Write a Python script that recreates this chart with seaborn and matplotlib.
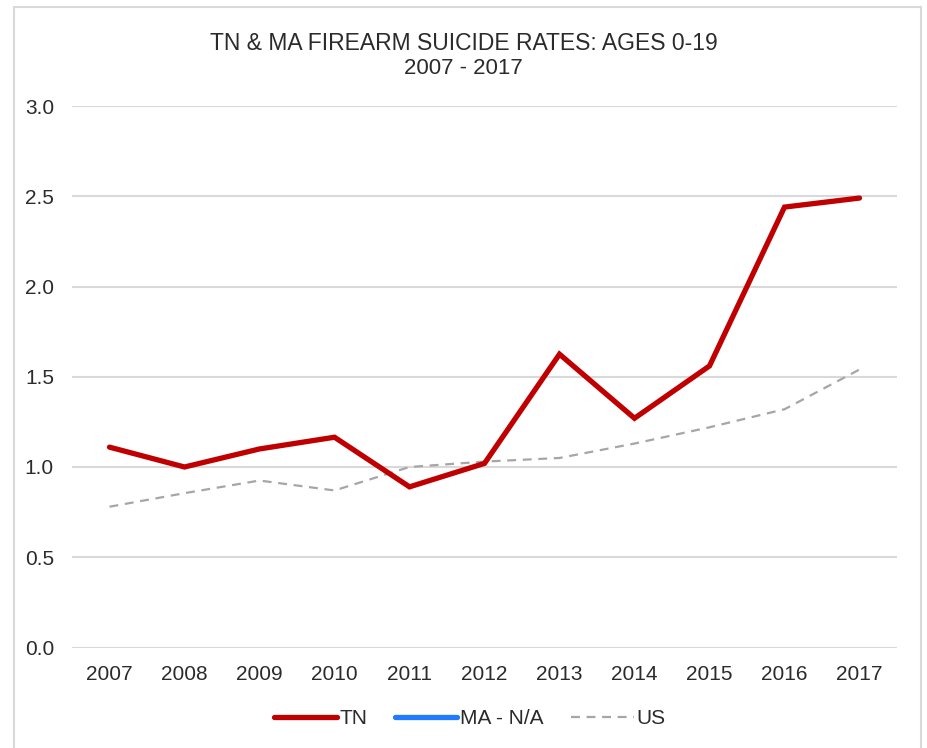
import matplotlib.pyplot as plt
from matplotlib.patches import Rectangle
from matplotlib.lines import Line2D
import numpy as np
import pandas as pd
import seaborn as sns

years = ["2007", "2008", "2009", "2010", "2011", "2012", "2013", "2014", "2015", "2016", "2017"]
tn_rates = [1.11, 1.00, 1.10, 1.165, 0.89, 1.02, 1.625, 1.27, 1.56, 2.44, 2.49]
ma_rates = [np.nan] * 11  # MA - N/A
us_rates = [0.78, 0.855, 0.925, 0.87, 1.00, 1.03, 1.05, 1.13, 1.22, 1.32, 1.54]

sns.set_style("white")
plt.rcParams["font.family"] = ["Liberation Sans", "DejaVu Sans"]
text_color = "#2b2b2b"

df = pd.DataFrame({"year": years, "TN": tn_rates, "MA": ma_rates, "US": us_rates})
fig = plt.figure(figsize=(9.27, 7.48), dpi=100)
ax = fig.add_axes([72 / 927, 1 - 647.5 / 748, 825 / 927, 541.5 / 748])

# outer chart frame
fig.patches.append(Rectangle((14 / 927, -0.01), 907 / 927, 1.0, transform=fig.transFigure,
                             fill=False, edgecolor="#D9D9D9", linewidth=1.5))

sns.lineplot(data=df, x="year", y="US", ax=ax, color="#A6A6A6", linewidth=1.6,
             dashes=False, linestyle=(0, (4, 3)), sort=False)
ax.plot(df["year"], df["MA"], color="#1F7BFF", linewidth=3.6)
sns.lineplot(data=df, x="year", y="TN", ax=ax, color="#C00000", linewidth=3.8,
             sort=False, solid_capstyle="round", solid_joinstyle="miter")

ax.set_xlim(-0.5, 10.5)
ax.set_ylim(0, 3)
ax.set_yticks([0, 0.5, 1.0, 1.5, 2.0, 2.5, 3.0])
ax.set_yticklabels([f"{v:.1f}" for v in [0, 0.5, 1.0, 1.5, 2.0, 2.5, 3.0]])
ax.yaxis.grid(True, color="#D9D9D9", linewidth=1.5)
ax.set_axisbelow(True)
for s in ax.spines.values():
    s.set_visible(False)
ax.tick_params(axis="both", length=0, labelsize=15, colors=text_color)
ax.tick_params(axis="x", pad=12.5)
ax.tick_params(axis="y", pad=13)
ax.set_xlabel("")
ax.set_ylabel("")

fig.text(0.5, 1 - 43 / 748, "TN & MA FIREARM SUICIDE RATES: AGES 0-19", ha="center", va="center",
         fontsize=16.5, color=text_color)
fig.text(0.5, 1 - 69 / 748, "2007 - 2017", ha="center", va="center", fontsize=16, color=text_color)

handles = [
    Line2D([], [], color="#C00000", linewidth=3.8, solid_capstyle="round"),
    Line2D([], [], color="#1F7BFF", linewidth=3.8, solid_capstyle="round"),
    Line2D([], [], color="#A6A6A6", linewidth=1.6, linestyle=(0, (4, 3))),
]
fig.legend(handles, ["TN", "MA - N/A", "US"], loc="center", bbox_to_anchor=(0.507, 1 - 719 / 748),
           ncol=3, frameon=False, fontsize=15, handlelength=3.0, handletextpad=0.15,
           columnspacing=1.3, labelcolor=text_color)

fig.savefig("out.png", dpi=100)
